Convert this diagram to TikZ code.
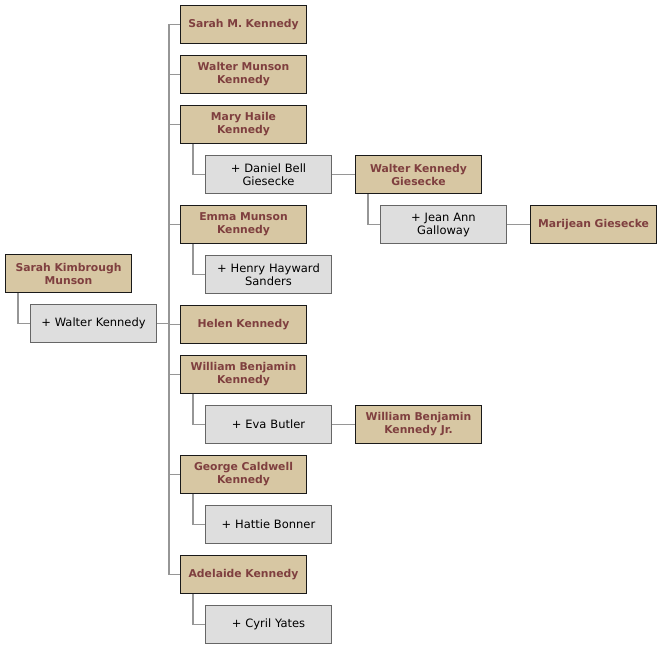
\documentclass[tikz,border=0pt]{standalone}
\usepackage{fontspec}
\setmainfont{DejaVu Sans}
\definecolor{tanfill}{RGB}{215,199,163}
\definecolor{namebrown}{RGB}{127,63,63}
\definecolor{spousefill}{RGB}{222,222,222}
\definecolor{linkgray}{RGB}{150,150,150}
\begin{document}
\begin{tikzpicture}[x=1pt, y=-1pt,
  box/.style={minimum width=126pt, minimum height=38pt, text width=122pt, align=center, inner sep=0pt, anchor=north west, line width=1pt},
  person/.style={box, draw=black!90, fill=tanfill, text=namebrown, font=\bfseries\fontsize{10.8}{13}\selectfont},
  spouse/.style={box, draw=black!60, fill=spousefill, text=black, font=\fontsize{11.5}{13}\selectfont},
  link/.style={draw=linkgray, line width=1.5pt}]
\useasboundingbox (0,0) rectangle (661,646);
\node[person] (p0) at (5,254){Sarah Kimbrough\\Munson};
\node[spouse] (s0) at (30,304){+ Walter Kennedy};
\node[person] (c1) at (180,5){Sarah M. Kennedy};
\node[person] (c2) at (180,55){Walter Munson\\Kennedy};
\node[person] (c3) at (180,105){Mary Haile\\Kennedy};
\node[spouse] (s3) at (205,155){+ Daniel Bell\\Giesecke};
\node[person] (g1) at (355,155){Walter Kennedy\\Giesecke};
\node[spouse] (s4) at (380,205){+ Jean Ann\\Galloway};
\node[person] (gg1) at (530,205){Marijean Giesecke};
\node[person] (c4) at (180,205){Emma Munson\\Kennedy};
\node[spouse] (s5) at (205,255){+ Henry Hayward\\Sanders};
\node[person] (c5) at (180,305){Helen Kennedy};
\node[person] (c6) at (180,355){William Benjamin\\Kennedy};
\node[spouse] (s6) at (205,405){+ Eva Butler};
\node[person] (g2) at (355,405){William Benjamin\\Kennedy Jr.};
\node[person] (c7) at (180,455){George Caldwell\\Kennedy};
\node[spouse] (s7) at (205,505){+ Hattie Bonner};
\node[person] (c8) at (180,555){Adelaide Kennedy};
\node[spouse] (s8) at (205,605){+ Cyril Yates};
\foreach \p/\s in {p0/s0, c3/s3, g1/s4, c4/s5, c6/s6, c7/s7, c8/s8}
  \draw[link] (\p.south west) ++(13,0) |- (\s.west);
\foreach \c in {c1,c2,c3,c4,c5,c6,c7,c8}
  \draw[link] (s0.east) -- ++(12,0) |- (\c.west);
\draw[link](s3) -- (g1);
\draw[link](s4) -- (gg1);
\draw[link](s6) -- (g2);
\end{tikzpicture}
\end{document}
